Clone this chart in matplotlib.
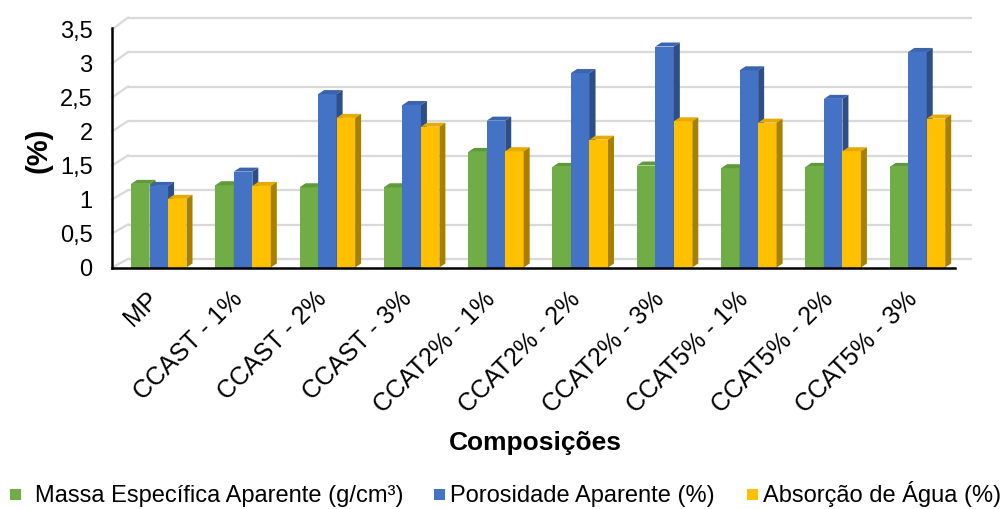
import numpy as np
import matplotlib.pyplot as plt
import matplotlib.transforms as mtransforms
from matplotlib.patches import Polygon, Rectangle

plt.rcParams['font.family'] = ['Liberation Sans', 'DejaVu Sans']

# dados
categorias = ['MP', 'CCAST - 1%', 'CCAST - 2%', 'CCAST - 3%', 'CCAT2% - 1%',
              'CCAT2% - 2%', 'CCAT2% - 3%', 'CCAT5% - 1%', 'CCAT5% - 2%', 'CCAT5% - 3%']
massa_especifica = [1.23, 1.21, 1.18, 1.18, 1.70, 1.48, 1.50, 1.46, 1.48, 1.48]
porosidade = [1.20, 1.41, 2.55, 2.39, 2.16, 2.86, 3.25, 2.90, 2.48, 3.17]
absorcao = [1.01, 1.20, 2.20, 2.07, 1.71, 1.88, 2.15, 2.13, 1.71, 2.19]
series = ['Massa Específica Aparente (g/cm³)', 'Porosidade Aparente (%)', 'Absorção de Água (%)']
yticks = [0, 0.5, 1, 1.5, 2, 2.5, 3, 3.5]
ytick_labels = ['0', '0,5', '1', '1,5', '2', '2,5', '3', '3,5']

# cores: frente, topo, lateral
cores = [('#70AD47', '#5E9A3A', '#4E7F30'),
         ('#4472C4', '#3A64AE', '#2E4E87'),
         ('#FFC000', '#E6AA00', '#A88000')]

W, H = 1005, 509
fig = plt.figure(figsize=(W / 100, H / 100), dpi=100)
x0_px, x1_px = 112, 955
y0_px, ppu = 267.5, 68.0   # pixel da linha zero e pixels por unidade
ax = fig.add_axes([x0_px / W, (H - y0_px) / H, (x1_px - x0_px) / W, 3.5 * ppu / H])
ax.set_xlim(-0.5, 9.5)
ax.set_ylim(0, 3.5)

px_x = 10 / (x1_px - x0_px)   # unidades de dados por pixel em x
px_y = 1 / ppu

# parede de fundo (grade deslocada em profundidade)
wall_dx, wall_dy = 16 * px_x, 8.5 * px_y
wall_scale = 69.0 / ppu
for v in yticks:
    yb = wall_dy + v * wall_scale
    ax.plot([-0.5 + wall_dx, 9.5 + 17 * px_x], [yb, yb], color='#D9D9D9', lw=1.6,
            clip_on=False, zorder=1, solid_capstyle='butt')
    ax.plot([-0.5, -0.5 + wall_dx], [v, yb], color='#D9D9D9', lw=1.6,
            clip_on=False, zorder=1)

# barras com efeito 3D
largura = 18.5 * px_x
desloc = [-0.165, 0.055, 0.274]
bar_dx, bar_dy = 6 * px_x, 4 * px_y
x = np.arange(len(categorias))
for k, valores in enumerate([massa_especifica, porosidade, absorcao]):
    frente, topo, lado = cores[k]
    for i, h in enumerate(valores):
        z = 3 + i * 3 + k
        xc = x[i] + desloc[k]
        xl, xr = xc - largura / 2, xc + largura / 2
        ax.bar(xc, h, width=largura, color=frente, zorder=z, linewidth=0)
        ax.add_patch(Polygon([(xl, h), (xr, h), (xr + bar_dx, h + bar_dy), (xl + bar_dx, h + bar_dy)],
                             closed=True, facecolor=topo, edgecolor='none', zorder=z, clip_on=False))
        ax.add_patch(Polygon([(xr, 0), (xr + bar_dx, bar_dy), (xr + bar_dx, h + bar_dy), (xr, h)],
                             closed=True, facecolor=lado, edgecolor='none', zorder=z, clip_on=False))

for s in ['top', 'right']:
    ax.spines[s].set_visible(False)
for s in ['left', 'bottom']:
    ax.spines[s].set_color('black')
    ax.spines[s].set_linewidth(1.8)
    ax.spines[s].set_zorder(100)
ax.spines['left'].set_bounds(0, 3.52)

ax.set_yticks(yticks)
ax.set_yticklabels(ytick_labels, fontsize=17)
ax.tick_params(axis='y', length=0, pad=14)
ax.set_xticks(x)
ax.set_xticklabels(categorias, fontsize=18, rotation=45, ha='right')
ax.tick_params(axis='x', length=0, pad=14)
desloc_rot = mtransforms.ScaledTranslation(9 / 100, 0, fig.dpi_scale_trans)
for lbl in ax.get_xticklabels():
    lbl.set_transform(lbl.get_transform() + desloc_rot)

fig.text(38 / W, 1 - 150 / H, '(%)', rotation=90, fontsize=21, fontweight='bold',
         ha='center', va='center')
fig.text(535 / W, 1 - 443 / H, 'Composições', fontsize=19, fontweight='bold',
         ha='center', va='center')

# legenda
leg_x = [10, 434, 747]
for k, nome in enumerate(series):
    fig.patches.append(Rectangle((leg_x[k] / W, 1 - 500 / H), 11 / W, 11 / H,
                                 transform=fig.transFigure, facecolor=cores[k][0],
                                 edgecolor='none'))
    fig.text((leg_x[k] + (25 if k == 0 else 16)) / W, 1 - 502 / H, nome, fontsize=17,
             ha='left', va='baseline')

fig.savefig('out.png', dpi=100)
